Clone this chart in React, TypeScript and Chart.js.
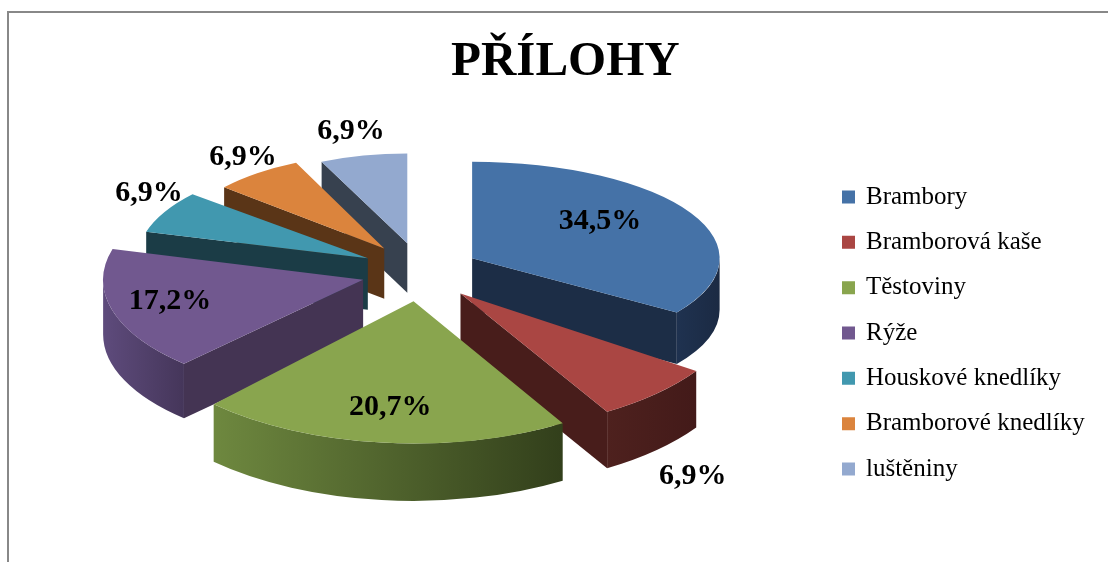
import React, { useEffect, useRef } from 'react';
import { Chart, registerables } from 'chart.js';

Chart.register(...registerables);

const chartTitle = 'PŘÍLOHY';
const categories = [
  'Brambory',
  'Bramborová kaše',
  'Těstoviny',
  'Rýže',
  'Houskové knedlíky',
  'Bramborové knedlíky',
  'luštěniny',
];
const shares = [34.5, 6.9, 20.7, 17.2, 6.9, 6.9, 6.9];

const topColors = ['#4572A7', '#AA4643', '#89A54E', '#71588F', '#4198AF', '#DB843D', '#93A9CF'];
const faceColors = ['#1C2D46', '#481D1B', '#3B4A22', '#443453', '#1B3C46', '#5A3517', '#37414F'];
const wallLight = ['#1F3250', '#4E211E', '#6E883F', '#5E4B7C', '#1B3C46', '#5A3517', '#37414F'];
const wallDark = ['#1B2A43', '#431A19', '#323F1B', '#45365A', '#1B3C46', '#5A3517', '#37414F'];

// perspective look of each slice: horizontal scale of radius, vertical/horizontal ratio
const sliceScale = [0.99, 1.14, 1.16, 1.04, 0.92, 0.84, 0.816];
const sliceTilt = [0.39, 0.484, 0.49, 0.445, 0.43, 0.45, 0.44];

// label placement (distance from pie centre as fraction of radius, vertical nudge)
const labelRadius = [0.815, 1.588, 1.088, 1.038, 1.227, 1.17, 1.284];
const labelNudge = [-3, 60, 0, -5, -7, 2, 16];

const CENTER_TILT = 0.5;
const EXPLODE = 59;
const SHIFT_X = -9.6;
const SHIFT_Y = -61;

const fmt = (v: number) => v.toFixed(1).replace('.', ',') + '%';

const pie3d = {
  id: 'pie3d',
  beforeDatasetsDraw(chart: any) {
    const meta = chart.getDatasetMeta(0);
    const ctx = chart.ctx as CanvasRenderingContext2D;
    const arcs = meta.data as any[];
    const midOf = (a: any) => (a.startAngle + a.endAngle) / 2;
    const order = arcs.map((_: any, i: number) => i);
    order.sort((i, j) => Math.sin(midOf(arcs[i])) - Math.sin(midOf(arcs[j])));
    for (const i of order) {
      const a = arcs[i];
      const mid = midOf(a);
      const v = Math.sin(mid);
      const sx = sliceScale[i];
      const kk = sliceTilt[i];
      const rx = a.outerRadius * sx;
      const ry = rx * kk;
      const h = 53.5 + 4 * v;
      const cx = a.x + SHIFT_X + Math.cos(mid) * EXPLODE;
      const cy = a.y + SHIFT_Y + Math.sin(mid) * EXPLODE * CENTER_TILT;
      const px = (t: number) => cx + rx * Math.cos(t);
      const py = (t: number) => cy + ry * Math.sin(t);
      const face = (t: number) => {
        ctx.beginPath();
        ctx.moveTo(cx, cy);
        ctx.lineTo(px(t), py(t));
        ctx.lineTo(px(t), py(t) + h);
        ctx.lineTo(cx, cy + h);
        ctx.closePath();
        ctx.fillStyle = faceColors[i];
        ctx.fill();
      };
      if (Math.cos(a.startAngle) < -1e-6) face(a.startAngle);
      if (Math.cos(a.endAngle) > 1e-6) face(a.endAngle);
      const s = Math.max(a.startAngle, 0);
      const e = Math.min(a.endAngle, Math.PI);
      if (e > s) {
        ctx.beginPath();
        ctx.ellipse(cx, cy, rx, ry, 0, s, e);
        ctx.ellipse(cx, cy + h, rx, ry, 0, e, s, true);
        ctx.closePath();
        const xa = Math.min(px(s), px(e));
        const xb = Math.max(px(s), px(e), s <= 0 ? cx + rx : -Infinity);
        const g = ctx.createLinearGradient(xa, 0, Math.max(xb, xa + 1), 0);
        g.addColorStop(0, wallLight[i]);
        g.addColorStop(1, wallDark[i]);
        ctx.fillStyle = g;
        ctx.fill();
      }
      ctx.save();
      ctx.translate(cx, cy);
      ctx.scale(sx, sx * kk);
      ctx.translate(-a.x, -a.y);
      a.draw(ctx);
      ctx.restore();
    }
    return false;
  },
  afterDraw(chart: any) {
    const meta = chart.getDatasetMeta(0);
    const ctx = chart.ctx as CanvasRenderingContext2D;
    ctx.save();
    ctx.font = 'bold 30px "Liberation Serif"';
    ctx.fillStyle = '#000';
    ctx.textAlign = 'center';
    ctx.textBaseline = 'middle';
    (meta.data as any[]).forEach((a: any, i: number) => {
      const mid = (a.startAngle + a.endAngle) / 2;
      const L = labelRadius[i] * a.outerRadius;
      const x = a.x + SHIFT_X + Math.cos(mid) * L;
      const y = a.y + SHIFT_Y + Math.sin(mid) * L * CENTER_TILT + labelNudge[i];
      ctx.fillText(fmt(shares[i]), x, y);
    });
    ctx.restore();
  },
};

export default function App() {
  const ref = useRef<HTMLCanvasElement | null>(null);
  useEffect(() => {
    const canvas = ref.current;
    if (!canvas) return;
    const baseLabels = (Chart as any).overrides.doughnut.plugins.legend.labels.generateLabels;
    const chart = new Chart(canvas, {
      type: 'pie',
      data: {
        labels: categories,
        datasets: [
          {
            data: shares,
            backgroundColor: topColors,
            borderWidth: 0,
          },
        ],
      },
      options: {
        responsive: false,
        animation: false,
        radius: 250,
        layout: { padding: { left: 27, right: 13.3, top: 0, bottom: 2 } },
        plugins: {
          tooltip: { enabled: false },
          title: {
            display: true,
            text: chartTitle,
            color: '#000',
            font: { family: '"Liberation Serif"', size: 49, weight: 'bold' },
            padding: { top: 19.5, bottom: 14.7 },
          },
          legend: {
            position: 'right',
            align: 'center',
            fullSize: false,
            labels: {
              color: '#000',
              font: { family: '"Liberation Serif"', size: 25 },
              boxWidth: 10,
              boxHeight: 10,
              padding: 20.33,
              generateLabels: (c: any) =>
                baseLabels(c).map((it: any) => ({ ...it, strokeStyle: it.fillStyle, lineWidth: 3 })),
            },
          },
        },
      } as any,
      plugins: [pie3d as any],
    });
    return () => chart.destroy();
  }, []);

  return (
    <div
      style={{
        position: 'fixed',
        left: 7,
        top: 11,
        width: 1300,
        height: 800,
        borderLeft: '2px solid #888',
        borderTop: '2px solid #888',
        background: '#fff',
      }}
    >
      <canvas
        ref={ref}
        width={1099}
        height={549}
        style={{ position: 'absolute', left: 0, top: 0, display: 'block' }}
      />
    </div>
  );
}
